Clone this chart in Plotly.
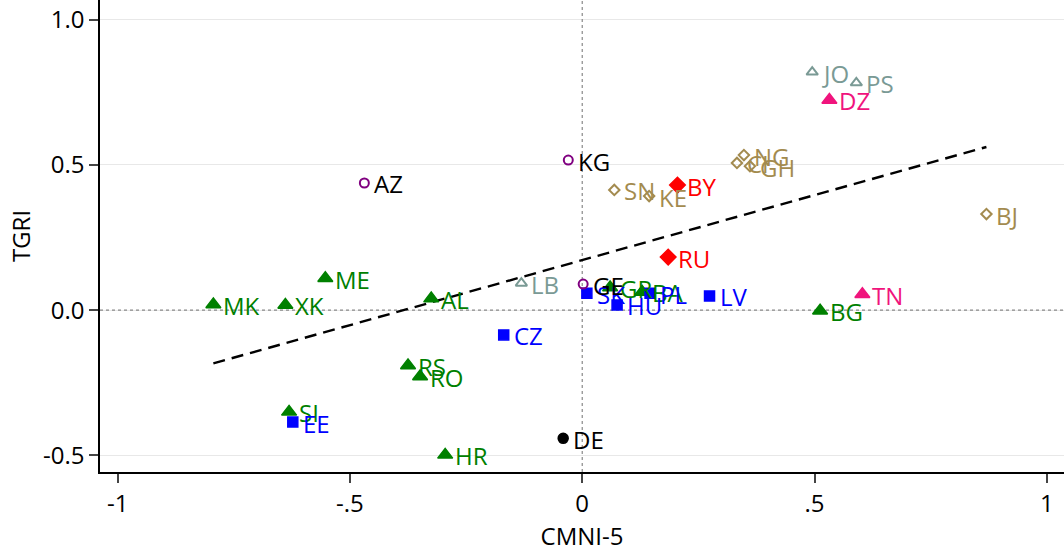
import plotly.graph_objects as go

# ---- data ----
grp_green_lbl = ["MK", "XK", "ME", "AL", "RS", "RO", "SI", "HR", "GR", "BA", "BG"]
grp_green_x = [-0.794, -0.639, -0.553, -0.325, -0.375, -0.349, -0.631, -0.295, 0.060, 0.129, 0.512]
grp_green_y = [0.020, 0.018, 0.110, 0.040, -0.190, -0.228, -0.350, -0.498, 0.078, 0.063, -0.002]

grp_blue_lbl = ["SK", "HU", "PL", "LV", "CZ", "EE"]
grp_blue_x = [0.010, 0.075, 0.146, 0.274, -0.169, -0.623]
grp_blue_y = [0.058, 0.018, 0.058, 0.049, -0.085, -0.385]

grp_purple_lbl = ["AZ", "KG", "GE"]
grp_purple_x = [-0.469, -0.030, 0.002]
grp_purple_y = [0.438, 0.517, 0.090]

grp_black_lbl = ["DE"]
grp_black_x = [-0.041]
grp_black_y = [-0.441]

grp_red_lbl = ["BY", "RU"]
grp_red_x = [0.205, 0.185]
grp_red_y = [0.431, 0.183]

grp_pink_lbl = ["DZ", "TN"]
grp_pink_x = [0.532, 0.603]
grp_pink_y = [0.724, 0.055]

grp_teal_lbl = ["JO", "PS", "LB"]
grp_teal_x = [0.495, 0.590, -0.131]
grp_teal_y = [0.820, 0.783, 0.093]

grp_gold_lbl = ["SN", "KE", "NG", "CI", "GH", "BJ"]
grp_gold_x = [0.069, 0.144, 0.348, 0.333, 0.361, 0.870]
grp_gold_y = [0.414, 0.393, 0.534, 0.507, 0.496, 0.331]

fit_x = [-0.794, 0.870]
fit_y = [-0.183, 0.562]

x_tickvals = [-1, -0.5, 0, 0.5, 1]
x_ticktext = ["-1", "-.5", "0", ".5", "1"]
y_tickvals = [-0.5, 0.0, 0.5, 1.0]
y_ticktext = ["-0.5", "0.0", "0.5", "1.0"]

FONT = "Open Sans"
XR = [-1.038, 1.037]
YR = [-0.557, 1.068]

fig = go.Figure()

# reference lines
fig.add_trace(go.Scatter(x=XR, y=[0, 0], mode="lines",
                         line=dict(color="#888888", width=1.2, dash="dot"),
                         hoverinfo="skip", showlegend=False))
fig.add_trace(go.Scatter(x=[0, 0], y=YR, mode="lines",
                         line=dict(color="#888888", width=1.2, dash="dot"),
                         hoverinfo="skip", showlegend=False))

# fit line
fig.add_trace(go.Scatter(x=fit_x, y=fit_y, mode="lines",
                         line=dict(color="black", width=2.4, dash="12px,7px"),
                         showlegend=False))

annotations = []

def add_group(xs, ys, lbls, color, symbol, size, lw=1.5, label_color=None):
    fig.add_trace(go.Scatter(
        x=xs, y=ys, mode="markers",
        marker=dict(symbol=symbol, size=size, color=color,
                    line=dict(color=color, width=lw)),
        showlegend=False, cliponaxis=False))
    for x, y, t in zip(xs, ys, lbls):
        annotations.append(dict(x=x, y=y, text=t, showarrow=False,
                                xanchor="left", yanchor="middle", xshift=8, yshift=-1,
                                font=dict(family=FONT, size=24,
                                          color=label_color or color)))

add_group(grp_green_x, grp_green_y, grp_green_lbl, "#008000", "triangle-up", 13)
add_group(grp_blue_x, grp_blue_y, grp_blue_lbl, "#0000FF", "square", 10)
add_group(grp_purple_x, grp_purple_y, grp_purple_lbl, "#800080", "circle-open", 9, 2,
          label_color="#000000")
add_group(grp_black_x, grp_black_y, grp_black_lbl, "#000000", "circle", 10)
add_group(grp_red_x, grp_red_y, grp_red_lbl, "#FF0000", "diamond", 12)
add_group(grp_pink_x, grp_pink_y, grp_pink_lbl, "#F0147D", "triangle-up", 13)
add_group(grp_teal_x, grp_teal_y, grp_teal_lbl, "#7A9A95", "triangle-up-open", 10, 2)
add_group(grp_gold_x, grp_gold_y, grp_gold_lbl, "#A38B4F", "diamond-open", 8, 2)

fig.update_layout(
    width=1064, height=552,
    margin=dict(l=100, r=0, t=0, b=80),
    paper_bgcolor="white", plot_bgcolor="white",
    font=dict(family=FONT, size=24, color="black"),
    annotations=annotations,
    xaxis=dict(range=XR, tickvals=x_tickvals, ticktext=x_ticktext,
               showgrid=False, zeroline=False, showline=True, linecolor="black",
               linewidth=1.5, ticks="outside", ticklen=9, tickwidth=1.5,
               automargin=False,
               tickfont=dict(family=FONT, size=24),
               title=dict(text="CMNI-5", font=dict(family=FONT, size=24), standoff=4)),
    yaxis=dict(range=YR, tickvals=y_tickvals, ticktext=y_ticktext,
               showgrid=True, gridcolor="#E8E8E8", gridwidth=1, zeroline=False,
               showline=True, linecolor="black", linewidth=1.5,
               ticks="outside", ticklen=9, tickwidth=1.5,
               automargin=False,
               tickfont=dict(family=FONT, size=24),
               title=dict(text="TGRI", font=dict(family=FONT, size=24), standoff=6)),
)

fig.write_html("out.html", config={"displayModeBar": False},
               post_script="document.body.style.margin='0px';document.body.style.overflow='hidden';")
